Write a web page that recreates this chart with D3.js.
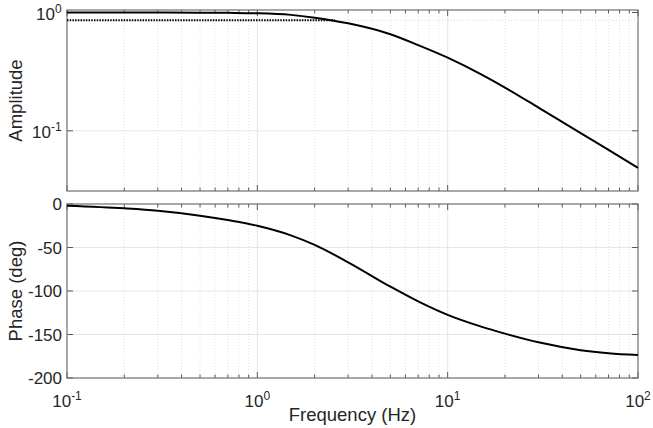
<!DOCTYPE html>
<html>
<head>
<meta charset="utf-8">
<script src="https://cdn.jsdelivr.net/npm/d3@7/dist/d3.min.js"></script>
<style>
  body { margin: 0; background: #fff; }
  svg { display: block; font-family: 'Liberation Sans', Arial, sans-serif; }
  .tick-label { font-size: 17px; fill: #262626; }
  .axis-label { font-size: 18.5px; fill: #262626; }
</style>
</head>
<body>
<svg id="chart"></svg>
<script>
'use strict';

/* Values */
var frequency = [0.1, 0.2, 0.3, 0.5, 0.7, 1, 1.5, 2, 3, 5, 7, 10, 15, 20, 30, 50, 70, 100];
var amplitude = [1.0, 1.0, 0.999, 0.997, 0.993, 0.985, 0.955, 0.905, 0.81, 0.655,
  0.53, 0.415, 0.30, 0.232, 0.157, 0.0955, 0.069, 0.0487];
var phase = [-2, -5, -7.7, -13.4, -18.5, -25, -36, -47, -67, -95,
  -112, -127.5, -141, -149, -159, -168, -171.5, -173.6];

/* Dotted reference level on the amplitude plot */
var refLevel = 0.86;
var refFreqs = [0.1, 2.56];

var xTicks = [0.1, 1, 10, 100];
var xTickExp = ['-1', '0', '1', '2'];
var ampTicks = [0.1, 1];
var ampTickExp = ['-1', '0'];
var phaseTicks = [-200, -150, -100, -50, 0];

var width = 653;
var height = 428;
var left = 67, right = 638;
var ampTop = 10, ampBottom = 191;
var phTop = 204, phBottom = 378;

var svg = d3.select('#chart')
  .attr('width', width)
  .attr('height', height);

var x = d3.scaleLog().domain([0.1, 100]).range([left, right]);
var yAmp = d3.scaleLog().domain([0.031, 1.05]).range([ampBottom, ampTop]);
var yPh = d3.scaleLinear().domain([-200, 0]).range([phBottom, phTop]);

/* minor decade ticks 2..9 */
var minorX = [];
[0.1, 1, 10].forEach(function(d) {
  d3.range(2, 10).forEach(function(m) { minorX.push(d * m); });
});

function drawPanel(y, top, bottom, yTicks, hLines) {
  var g = svg.append('g');

  /* grid */
  g.selectAll('.minor-grid')
    .data(minorX)
    .enter().append('line')
      .attr('x1', function(d) { return x(d); })
      .attr('x2', function(d) { return x(d); })
      .attr('y1', top).attr('y2', bottom)
      .attr('stroke', '#dcdcdc')
      .attr('stroke-width', 0.8)
      .attr('stroke-dasharray', '1,2');
  g.selectAll('.major-grid')
    .data(xTicks.slice(1, -1))
    .enter().append('line')
      .attr('x1', function(d) { return x(d); })
      .attr('x2', function(d) { return x(d); })
      .attr('y1', top).attr('y2', bottom)
      .attr('stroke', '#e6e6e6');
  g.selectAll('.h-grid')
    .data(hLines)
    .enter().append('line')
      .attr('x1', left).attr('x2', right)
      .attr('y1', function(d) { return y(d); })
      .attr('y2', function(d) { return y(d); })
      .attr('stroke', '#e6e6e6');

  /* inward ticks on all four sides */
  var tickColor = '#5a5a5a';
  [[top, 1], [bottom, -1]].forEach(function(side) {
    g.selectAll(null)
      .data(minorX)
      .enter().append('line')
        .attr('x1', function(d) { return x(d); })
        .attr('x2', function(d) { return x(d); })
        .attr('y1', side[0])
        .attr('y2', side[0] + side[1] * 3.5)
        .attr('stroke', tickColor);
    g.selectAll(null)
      .data(xTicks)
      .enter().append('line')
        .attr('x1', function(d) { return x(d); })
        .attr('x2', function(d) { return x(d); })
        .attr('y1', side[0])
        .attr('y2', side[0] + side[1] * 6)
        .attr('stroke', tickColor);
  });
  [[left, 1], [right, -1]].forEach(function(side) {
    g.selectAll(null)
      .data(yTicks)
      .enter().append('line')
        .attr('x1', side[0])
        .attr('x2', side[0] + side[1] * 6)
        .attr('y1', function(d) { return y(d); })
        .attr('y2', function(d) { return y(d); })
        .attr('stroke', tickColor);
  });

  /* box */
  g.append('rect')
    .attr('x', left)
    .attr('y', top)
    .attr('width', right - left)
    .attr('height', bottom - top)
    .attr('fill', 'none')
    .attr('stroke', '#6e6e6e')
    .attr('stroke-width', 1.2);

  return g;
}

function powerLabel(g, px, py, exp, anchor) {
  var t = g.append('text')
    .attr('class', 'tick-label')
    .attr('x', px)
    .attr('y', py)
    .attr('text-anchor', anchor);
  t.append('tspan').text('10');
  t.append('tspan')
    .attr('dy', -7)
    .style('font-size', '12px')
    .text(exp);
  return t;
}

/* Amplitude panel */
var gAmp = drawPanel(yAmp, ampTop, ampBottom, ampTicks, [0.1]);

gAmp.append('line')
  .attr('x1', left).attr('x2', right)
  .attr('y1', yAmp(refLevel)).attr('y2', yAmp(refLevel))
  .attr('stroke', '#d8d8d8')
  .attr('stroke-dasharray', '1,2');

gAmp.append('path')
  .datum(refFreqs)
  .attr('fill', 'none')
  .attr('stroke', '#000')
  .attr('stroke-width', 1.8)
  .attr('stroke-dasharray', '1.5,1.2')
  .attr('d', d3.line()
    .x(function(d) { return x(d); })
    .y(function() { return yAmp(refLevel); }));

gAmp.append('path')
  .datum(d3.zip(frequency, amplitude))
  .attr('fill', 'none')
  .attr('stroke', '#000')
  .attr('stroke-width', 2)
  .attr('d', d3.line()
    .curve(d3.curveMonotoneX)
    .x(function(d) { return x(d[0]); })
    .y(function(d) { return yAmp(d[1]); }));

ampTicks.forEach(function(d, i) {
  powerLabel(gAmp, 60, yAmp(d) + 7, ampTickExp[i], 'end');
});
/* shift labels so exponent sits at the right edge */
gAmp.selectAll('text.tick-label').each(function() {
  var w = this.getBBox().width;
  d3.select(this).attr('text-anchor', 'start').attr('x', 62 - w);
});

gAmp.append('text')
  .attr('class', 'axis-label')
  .attr('transform', 'translate(16,' + ((ampTop + ampBottom) / 2) + ') rotate(-90)')
  .attr('text-anchor', 'middle')
  .attr('dy', '0.35em')
  .text('Amplitude');

/* Phase panel */
var gPh = drawPanel(yPh, phTop, phBottom, phaseTicks, [-150, -100, -50]);

gPh.append('path')
  .datum(d3.zip(frequency, phase))
  .attr('fill', 'none')
  .attr('stroke', '#000')
  .attr('stroke-width', 2)
  .attr('d', d3.line()
    .curve(d3.curveMonotoneX)
    .x(function(d) { return x(d[0]); })
    .y(function(d) { return yPh(d[1]); }));

gPh.selectAll('.ph-label')
  .data(phaseTicks)
  .enter().append('text')
    .attr('class', 'tick-label')
    .attr('x', 62)
    .attr('y', function(d) { return yPh(d); })
    .attr('dy', '0.36em')
    .attr('text-anchor', 'end')
    .text(function(d) { return d; });

xTicks.forEach(function(d, i) {
  powerLabel(gPh, x(d), 407, xTickExp[i], 'middle');
});

gPh.append('text')
  .attr('class', 'axis-label')
  .attr('transform', 'translate(16,' + ((phTop + phBottom) / 2) + ') rotate(-90)')
  .attr('text-anchor', 'middle')
  .attr('dy', '0.35em')
  .text('Phase (deg)');

svg.append('text')
  .attr('class', 'axis-label')
  .attr('x', (left + right) / 2)
  .attr('y', 421)
  .attr('text-anchor', 'middle')
  .text('Frequency (Hz)');
</script>
</body>
</html>
